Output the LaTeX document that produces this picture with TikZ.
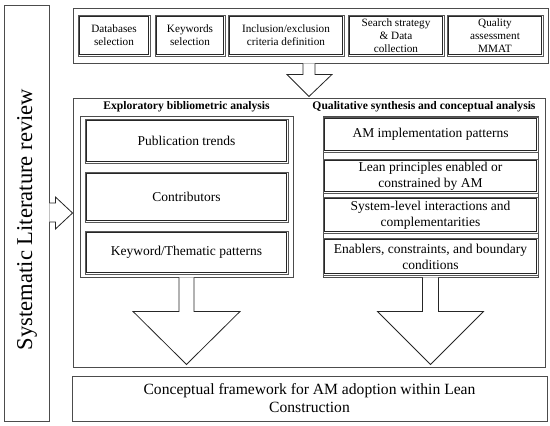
\documentclass[tikz,border=0pt]{standalone}
\usepackage{fontspec}
\setmainfont{Liberation Serif}
\usetikzlibrary{calc}
\begin{document}
\begin{tikzpicture}[x=1pt,y=-1pt,
  frame/.style={draw=black!70, line width=0.9pt, inner sep=0pt, rectangle},
  dbox/.style={draw=black!65, line width=0.7pt, fill=white, inner sep=0pt, rectangle, align=center},
  innerline/.style={draw=black!85, line width=0.7pt},
  smalltxt/.style={font=\fontsize{11.2}{13}\selectfont},
  midtxt/.style={font=\fontsize{13.5}{16}\selectfont},
  ttl/.style={font=\bfseries\fontsize{11.6}{13}\selectfont, inner sep=0pt},
  blockarrow/.style={draw=black!85, line width=0.8pt, fill=white, line join=miter}
]
\useasboundingbox (0,0) rectangle (550,426);

% left vertical box
\node[frame, minimum width=45pt, minimum height=416pt] (slr) at (26.5,213) {};
\node[rotate=90, font=\fontsize{22.6}{26}\selectfont, inner sep=0pt] (slrt) at (27,219.5) {Systematic Literature review};

% top container and steps
\node[frame, minimum width=475pt, minimum height=55pt] (top) at (310.5,35.5) {};
\node[dbox, smalltxt, minimum width=72pt, minimum height=41pt] (db) at (114,35.5) {Databases\\selection};
\node[dbox, smalltxt, minimum width=70pt, minimum height=41pt] (kw) at (190,35.5) {Keywords\\selection};
\node[dbox, smalltxt, minimum width=116pt, minimum height=41pt] (inc) at (286,35.5) {Inclusion/exclusion\\criteria definition};
\node[dbox, smalltxt, minimum width=96pt, minimum height=41pt] (ss) at (396,35.5) {Search strategy\\\& Data\\collection};
\node[dbox, smalltxt, minimum width=96pt, minimum height=41pt] (qa) at (495,35.5) {Quality\\assessment\\MMAT};

% middle container
\node[frame, minimum width=472pt, minimum height=269pt] (mid) at (309,232.5) {};
\node[ttl] (t1) at (186.5,107) {Exploratory bibliometric analysis};
\node[ttl] (t2) at (424,107) {Qualitative synthesis and conceptual analysis};

% left group
\node[frame, minimum width=213pt, minimum height=161pt] (lg) at (186.5,196.5) {};
\node[dbox, midtxt, minimum width=203pt, minimum height=44pt] (pt) at (186.5,141) {Publication trends};
\node[dbox, midtxt, minimum width=203pt, minimum height=50pt] (co) at (186.5,197) {Contributors};
\node[dbox, midtxt, minimum width=203pt, minimum height=43pt] (kt) at (186.5,252.5) {Keyword/Thematic patterns};

% right group
\node[frame, minimum width=215pt, minimum height=161pt] (rg) at (430.5,196.5) {};
\node[dbox, midtxt, minimum width=215pt, minimum height=35pt] (am) at (430.5,134.5) {AM implementation patterns};
\node[dbox, midtxt, minimum width=215pt, minimum height=34pt] (lp) at (430.5,176) {Lean principles enabled or\\constrained by AM};
\node[dbox, midtxt, minimum width=215pt, minimum height=36pt] (sl) at (430.5,215) {System-level interactions and\\complementarities};
\node[dbox, midtxt, minimum width=215pt, minimum height=37pt] (en) at (430.5,256.5) {Enablers, constraints, and boundary\\conditions};

% inner lines of the double-bordered boxes
\foreach \n in {db,kw,inc,ss,qa,pt,co,kt,am,lp,sl,en}
  \draw[innerline] ($(\n.north west)+(1.8,1.8)$) rectangle ($(\n.south east)+(-1.8,-1.8)$);

% bottom box
\node[frame, minimum width=475pt, minimum height=45pt, align=center, font=\fontsize{15.6}{18}\selectfont] (cf) at (309.5,398.5) {Conceptual framework for AM adoption within Lean\\Construction};

% top arrow
\coordinate (ta) at ($(top.south)+(-1.5,0)$);
\draw[blockarrow] ($(ta)+(-6,0)$) -- ($(ta)+(-6,11)$) -- ($(ta)+(-22,11)$) -- ($(ta)+(0,33)$) -- ($(ta)+(23,11)$) -- ($(ta)+(6,11)$) -- ($(ta)+(6,0)$);

% left arrow
\coordinate (la) at (slr.east);
\draw[blockarrow] ($(la)+(0,-10)$) -- ($(la)+(6,-10)$) -- ($(la)+(6,-16)$) -- (la -| mid.west) -- ($(la)+(6,16)$) -- ($(la)+(6,9)$) -- ($(la)+(0,9)$);

% down arrows
\coordinate (da) at (lg.south);
\draw[blockarrow] ($(da)+(-7.5,0)$) -- ($(da)+(-7.5,34)$) -- ($(da)+(-53.5,34)$) -- ($(da)+(0,87)$) -- ($(da)+(53.5,34)$) -- ($(da)+(7.5,34)$) -- ($(da)+(7.5,0)$);
\coordinate (db2) at (rg.south);
\draw[blockarrow] ($(db2)+(-8,0)$) -- ($(db2)+(-8,34)$) -- ($(db2)+(-53,34)$) -- ($(db2)+(0,87)$) -- ($(db2)+(53,34)$) -- ($(db2)+(8,34)$) -- ($(db2)+(8,0)$);
\end{tikzpicture}
\end{document}
